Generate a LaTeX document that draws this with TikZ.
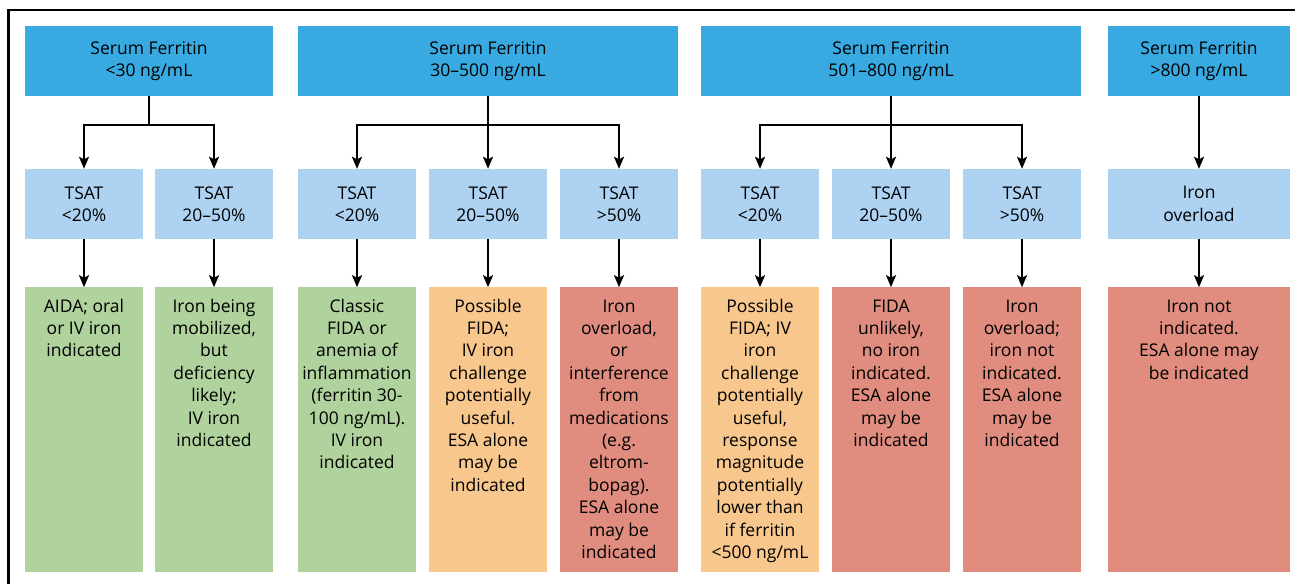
\documentclass[tikz,border=0pt]{standalone}
\usepackage{fontspec}
\setmainfont{Open Sans}
\usepackage{tikz}
\usetikzlibrary{arrows.meta,positioning}
\definecolor{ferritinblue}{RGB}{57,170,225}
\definecolor{tsatblue}{RGB}{174,211,242}
\definecolor{okgreen}{RGB}{176,210,157}
\definecolor{maybeorange}{RGB}{248,199,141}
\definecolor{noredd}{RGB}{224,141,127}
\newcommand{\outtext}[2][118pt]{\parbox[t][267pt][t]{#1}{\centering\strut #2}}
\tikzset{ferritin box/.style={rectangle,fill=ferritinblue,minimum height=70pt,inner sep=0pt,align=center,font=\fontsize{17.5}{22.4}\selectfont},
  tsat box/.style={rectangle,fill=tsatblue,minimum width=118pt,minimum height=70pt,inner sep=0pt,align=center,font=\fontsize{17.5}{22.4}\selectfont},
  outcome box/.style={rectangle,minimum width=118pt,minimum height=285pt,inner xsep=0pt,inner ysep=9pt,font=\fontsize{17.5}{22.4}\selectfont},
  flow line/.style={line width=2pt,color=black},
  flow arrow/.style={flow line,-{Stealth[length=12pt,width=10pt,inset=2.5pt]}}}

\begin{document}
\begin{tikzpicture}[x=1pt,y=-1pt]
\useasboundingbox (0,0) rectangle (1295,584);
% frame, cut off on the right and at the bottom
\draw[line width=2.5pt] (8.7,584) -- (8.7,10) -- (1295,10);

% Serum ferritin ranges on the top row
\node[ferritin box, minimum width=248pt] (f1) at (149,61) {Serum Ferritin\\<30 ng/mL};
\node[ferritin box, minimum width=380pt] (f2) at (488,61) {Serum Ferritin\\30--500 ng/mL};
\node[ferritin box, minimum width=380pt] (f3) at (891,61) {Serum Ferritin\\501--800 ng/mL};
\node[ferritin box, minimum width=182pt] (f4) at (1199,61) {Serum Ferritin\\>800 ng/mL};

% TSAT row
\node[tsat box] (t1) at (84,204) {TSAT\\<20\%};
\node[tsat box] (t2) at (214,204) {TSAT\\20--50\%};
\node[tsat box] (t3) at (357,204) {TSAT\\<20\%};
\node[tsat box] (t4) at (488,204) {TSAT\\20--50\%};
\node[tsat box] (t5) at (619,204) {TSAT\\>50\%};
\node[tsat box] (t6) at (760,204) {TSAT\\<20\%};
\node[tsat box] (t7) at (891,204) {TSAT\\20--50\%};
\node[tsat box] (t8) at (1022,204) {TSAT\\>50\%};
\node[tsat box, minimum width=182pt] (t9) at (1199,204) {Iron\\overload};

% What to do, on the bottom row
\node[outcome box, fill=okgreen, below=48pt of t1] (o1) {\outtext{AIDA; oral\\or IV iron\\indicated}};
\node[outcome box, fill=okgreen, below=48pt of t2] (o2) {\outtext{Iron being\\mobilized,\\but\\deficiency\\likely;\\IV iron\\indicated}};
\node[outcome box, fill=okgreen, below=48pt of t3] (o3) {\outtext{Classic\\FIDA or\\anemia of\\inflammation\\(ferritin 30-\\100 ng/mL).\\IV iron\\indicated}};
\node[outcome box, fill=maybeorange, below=48pt of t4] (o4) {\outtext{Possible\\FIDA;\\IV iron\\challenge\\potentially\\useful.\\ESA alone\\may be\\indicated}};
\node[outcome box, fill=noredd, below=48pt of t5] (o5) {\outtext{Iron\\overload,\\or\\interference\\from\\medications\\(e.g.\\eltrom-\\bopag).\\ESA alone\\may be\\indicated}};
\node[outcome box, fill=maybeorange, below=48pt of t6] (o6) {\outtext{Possible\\FIDA; IV\\iron\\challenge\\potentially\\useful,\\response\\magnitude\\potentially\\lower than\\if ferritin\\<500 ng/mL}};
\node[outcome box, fill=noredd, below=48pt of t7] (o7) {\outtext{FIDA\\unlikely,\\no iron\\indicated.\\ESA alone\\may be\\indicated}};
\node[outcome box, fill=noredd, below=48pt of t8] (o8) {\outtext{Iron\\overload;\\iron not\\indicated.\\ESA alone\\may be\\indicated}};
\node[outcome box, fill=noredd, minimum width=182pt, below=48pt of t9] (o9) {\outtext[182pt]{Iron not\\indicated.\\ESA alone may\\be indicated}};

% branching from ferritin to TSAT
\coordinate (j1) at (149,125);
\coordinate (j2) at (488,125);
\coordinate (j3) at (891,125);
\draw[flow line] (f1.south) -- (j1);
\draw[flow arrow] (j1) -| (t1.north);
\draw[flow arrow] (j1) -| (t2.north);
\draw[flow arrow] (f2.south) -- (t4.north);
\draw[flow arrow] (j2) -| (t3.north);
\draw[flow arrow] (j2) -| (t5.north);
\draw[flow arrow] (f3.south) -- (t7.north);
\draw[flow arrow] (j3) -| (t6.north);
\draw[flow arrow] (j3) -| (t8.north);
\draw[flow arrow] (f4.south) -- (t9.north);

% TSAT to outcome
\foreach \i in {1,...,9}
  \draw[flow arrow] (t\i.south) -- (o\i.north);

\end{tikzpicture}
\end{document}
